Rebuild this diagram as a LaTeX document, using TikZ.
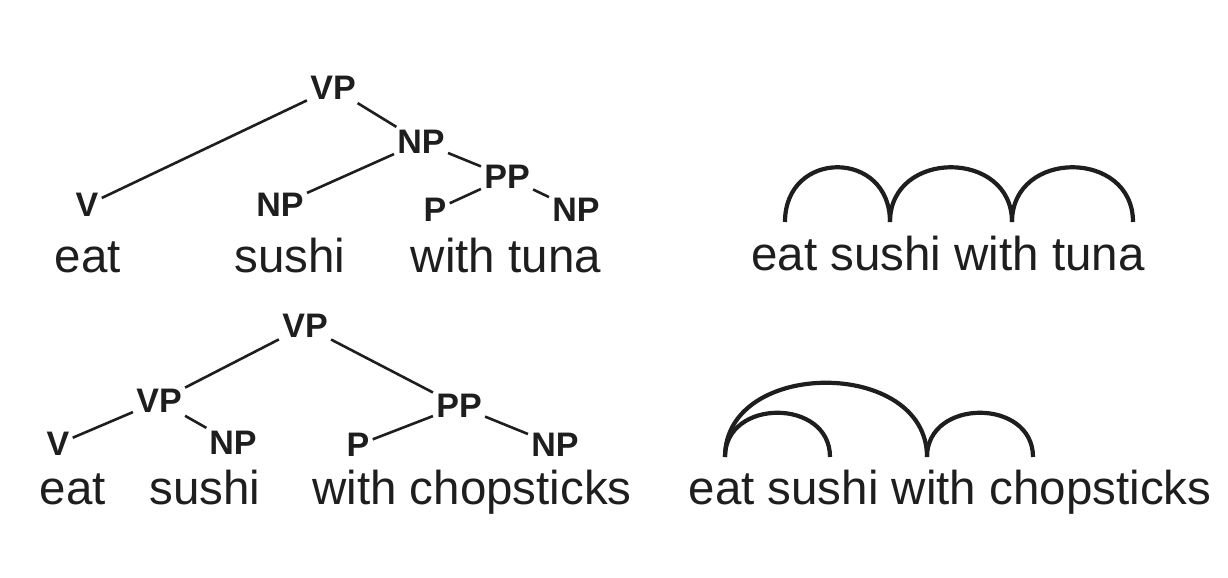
\documentclass[tikz,border=0pt]{standalone}
\usepackage{fontspec}
\setmainfont{Liberation Sans}
\usepackage{tikz}
\definecolor{ink}{HTML}{1E1E1E}

\begin{document}
\begin{tikzpicture}[x=0.5pt,y=-0.5pt,
cat/.style={font=\bfseries\fontsize{17}{20}\selectfont,text=ink,inner sep=1.5pt},
word/.style={font=\fontsize{23.75}{28}\selectfont,text=ink,inner sep=0pt,anchor=base},
br/.style={draw=ink,line width=1.3pt},
dep/.style={draw=ink,line width=2.1pt}]
\useasboundingbox (0,0) rectangle (1228,578);
% eat sushi with tuna: tree
\node[cat] (tVP) at (333,88) {VP};
\node[cat] (tNP) at (421,142) {NP};
\node[cat] (tPP) at (507,177) {PP};
\node[cat] (tV) at (87,205) {V};
\node[cat] (tNPs) at (280,205) {NP};
\node[cat] (tP) at (435,210) {P};
\node[cat] (tNPt) at (576,210) {NP};
\node[word] (tEat) at (88,272) {eat};
\node[word] (tSushi) at (290,272) {sushi};
\node[word] (tWith) at (506,272) {with tuna};
\draw[br] (tVP)--(tV);
\draw[br] (tVP)--(tNP);
\draw[br] (tNP)--(tNPs);
\draw[br] (tNP)--(tPP);
\draw[br] (tPP)--(tP);
\draw[br] (tPP)--(tNPt);
% eat sushi with chopsticks: tree
\node[cat] (bVP) at (305,326) {VP};
\node[cat] (bVPl) at (159,401) {VP};
\node[cat] (bPP) at (459,406) {PP};
\node[cat] (bV) at (58,444) {V};
\node[cat] (bNP) at (233,443) {NP};
\node[cat] (bP) at (358,445) {P};
\node[cat] (bNPc) at (555,445) {NP};
\node[word] (bEat) at (73,504) {eat};
\node[word] (bSushi) at (205,504) {sushi};
\node[word] (bWith) at (472,504) {with chopsticks};
\draw[br] (bVP)--(bVPl);
\draw[br] (bVP)--(bPP);
\draw[br] (bVPl)--(bV);
\draw[br] (bVPl)--(bNP);
\draw[br] (bPP)--(bP);
\draw[br] (bPP)--(bNPc);
% dependency arcs
\node[word] (rTop) at (948,270) {eat sushi with tuna};
\coordinate (a1) at (785,222);
\coordinate (a2) at (890,222);
\coordinate (a3) at (1012,222);
\coordinate (a4) at (1133,222);
\draw[dep] (a1) .. controls +(0,-73) and +(0,-73) .. (a2);
\draw[dep] (a2) .. controls +(0,-73) and +(0,-73) .. (a3);
\draw[dep] (a3) .. controls +(0,-73) and +(0,-73) .. (a4);
\node[word] (rBot) at (950,504) {eat sushi with chopsticks};
\coordinate (b1) at (725,457);
\coordinate (b2) at (830,457);
\coordinate (b3) at (927,457);
\coordinate (b4) at (1033,457);
\draw[dep] (b1) .. controls +(0,-59) and +(0,-59) .. (b2);
\draw[dep] (b1) .. controls +(0,-99) and +(0,-99) .. (b3);
\draw[dep] (b3) .. controls +(0,-59) and +(0,-59) .. (b4);
\end{tikzpicture}
\end{document}
